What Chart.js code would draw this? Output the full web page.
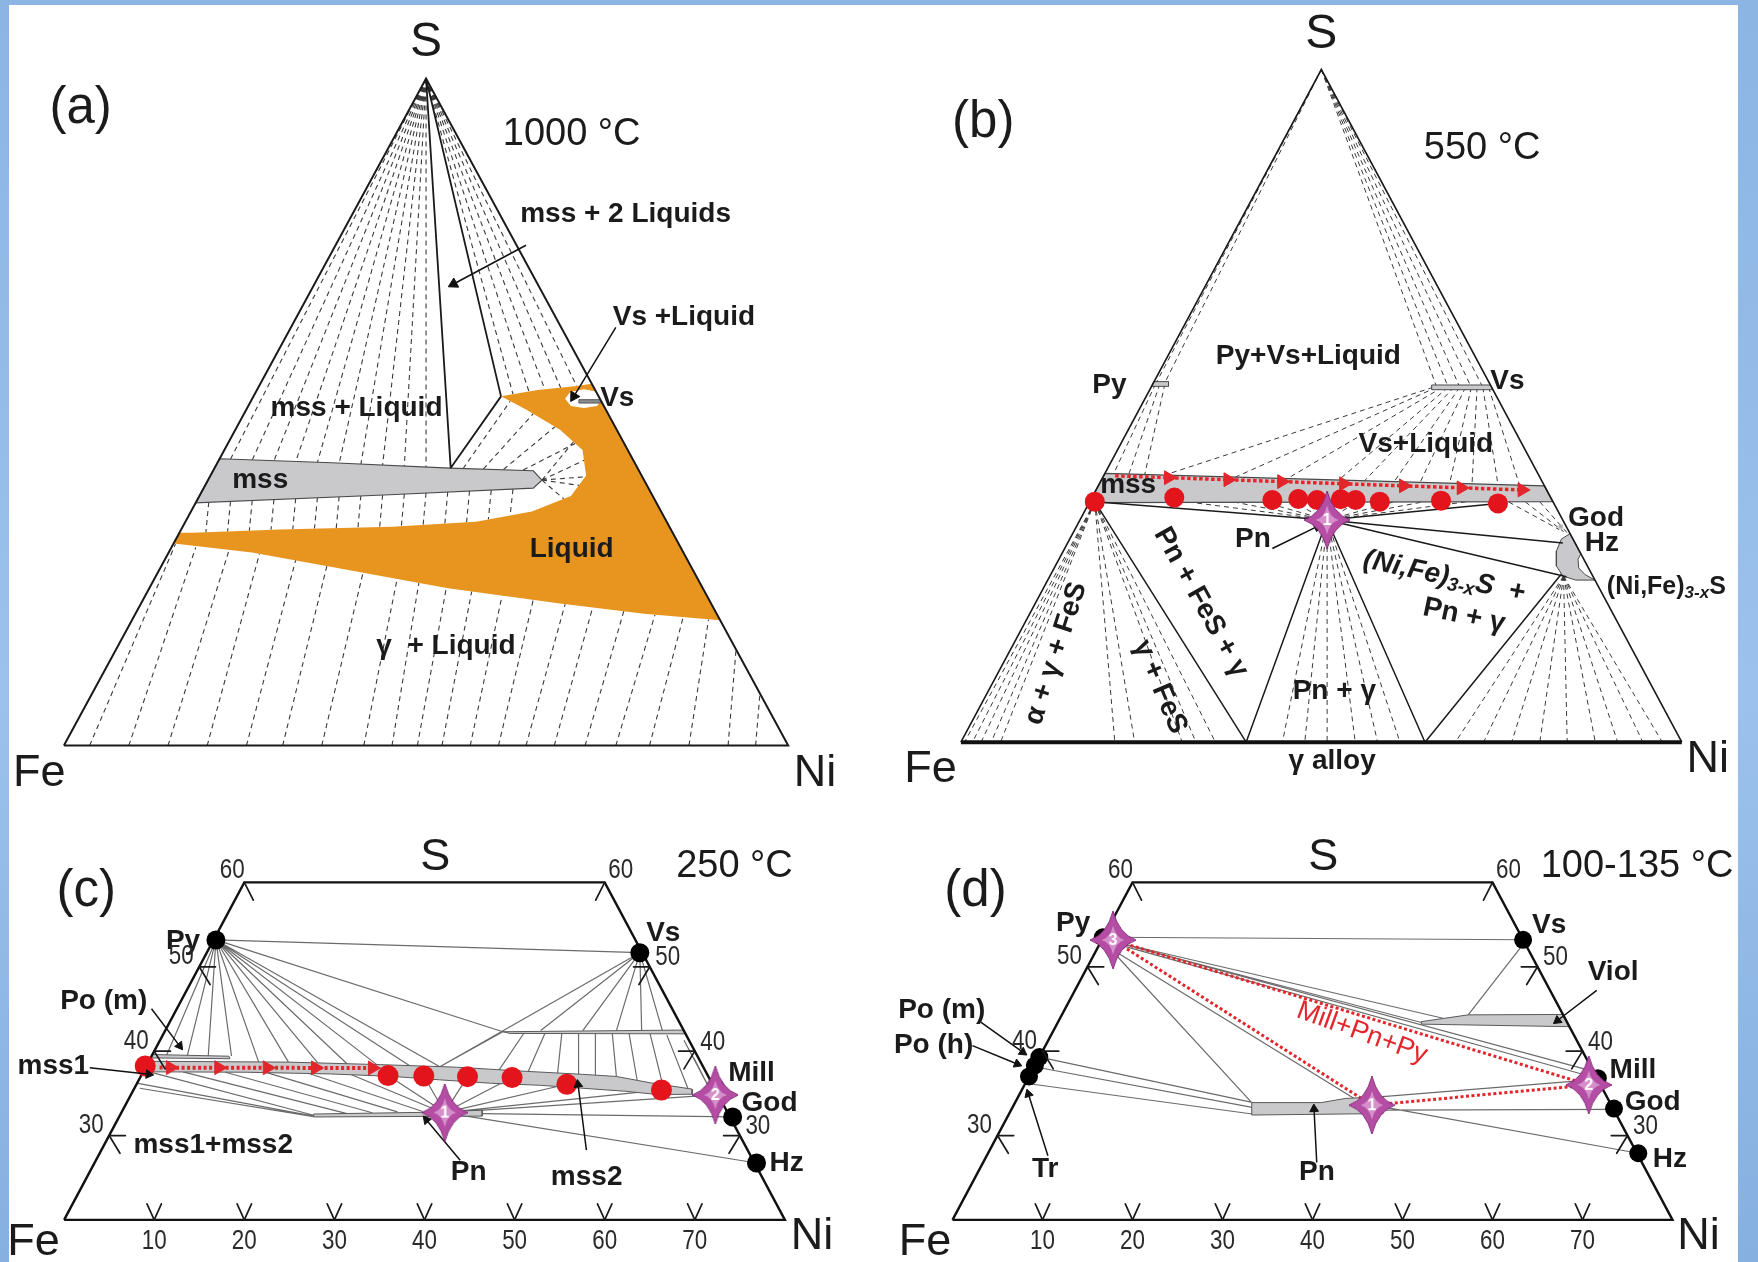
<!DOCTYPE html>
<html>
<head>
<meta charset="utf-8">
<title>Fe–Ni–S phase relations</title>
<script src="https://cdn.jsdelivr.net/npm/chart.js@4.4.1/dist/chart.umd.min.js"></script>
<style>
  html, body { margin: 0; padding: 0; }
  body { width: 1758px; height: 1262px; position: relative; overflow: hidden;
         background: linear-gradient(180deg, #8cb5e4 0%, #9cc1ec 55%, #86b0e0 100%); }
  #sheet { position: absolute; left: 9px; top: 5px; width: 1729px; height: 1257px; background: #ffffff; }
  canvas { position: absolute; }
</style>
</head>
<body>
<div id="sheet"></div>
<canvas id="pa" width="879" height="800" style="left:0px;top:0px"></canvas>
<canvas id="pb" width="879" height="800" style="left:879px;top:0px"></canvas>
<canvas id="pc" width="879" height="462" style="left:0px;top:800px"></canvas>
<canvas id="pd" width="879" height="462" style="left:879px;top:800px"></canvas>
<script>
// Coordinates are [x, S]: x = horizontal position along the Fe–Ni base, S = at.% sulfur (height).
// Panels (a),(b): full triangle, x 0..100, S 0..100.  Panels (c),(d): section S 20..60, x 0..80.

// ================= Panel (a) 1000 °C =================
const aCorners = [['S', 50, 105.4], ['Fe', -3.4, -4.2], ['Ni', 103.7, -4.2]];
const aTitle = [['(a)', 2.3, 95.5]];
const aTemp = [['1000 °C', 70.1, 91.6]];
const aOutline = [[0,0],[50,100],[100,0],[0,0]];
const aMss = [[21.5,43.0],[37,42.4],[53.3,41.6],[64.8,41.2],[66.0,39.8],[64.8,38.6],[45,37.6],[18.2,36.4],[21.5,43.0]];
const aLiquid = [[16.0,31.9],[17.8,31.9],[29.8,32.4],[45.3,32.8],[56.9,33.56],[64.6,35.1],[70.0,37.4],[72.1,40.5],[71.6,44.3],[68.5,47.35],[63.8,50.4],[60.35,52.35],[65.4,53.3],[70.8,53.9],[72.87,54.26],[90.6,18.8],[80.1,19.76],[68.5,21.3],[53.03,23.6],[37.57,26.65],[25.97,28.96],[15.2,30.3],[16.0,31.9]];
const aVsHole = [[69.2,52.0],[69.9,53.0],[71.8,53.4],[73.8,53.0],[74.4,52.0],[73.6,50.9],[71.8,50.6],[70.0,50.9],[69.2,52.0]];
const aVsPhase = [[71.1,51.85],[74.05,51.85],[74.25,51.35],[71.1,51.35],[71.1,51.85]];
const aBoundaries = [[50,100,53.4,41.6],[50,100,60.35,52.35],[53.4,41.6,60.35,52.35]];
const aApex = [50,100];
const aApexTieEnds = [[23,42.94],[26,42.8],[29,42.68],[32,42.55],[35,42.42],[38,42.29],[41,42.16],[44,42.03],[47,41.9],[50,41.77],[62,52.7],[64.2,53.1],[66.4,53.4],[68.6,53.6],[70.8,53.9]];
const aMssTip = [66.0,39.8];
const aTipTieEnds = [[72.1,40.3],[71.9,42.8],[70.4,45.6],[71.2,39.0],[69.0,37.0]];
const aTies = [
  [20,36.5,19.6,31.95],[23,36.6,22.6,32.1],[26,36.75,25.6,32.2],[29,36.9,28.6,32.35],[32,37.05,31.6,32.45],
  [35,37.2,34.6,32.55],[38,37.35,37.6,32.6],[41,37.5,40.6,32.7],[44,37.6,43.6,32.8],[47,37.75,46.6,32.95],
  [50,37.9,49.6,33.1],[53,38.05,52.6,33.3],[56,38.2,55.6,33.5],[59,38.3,58.6,33.9],[62,38.45,61.6,34.4],
  [55.1,41.5,61.6,51.6],[57.9,41.45,64.8,49.75],[60.7,41.4,67.8,47.8],[63.4,41.3,70.6,45.3],
  [3.55,0,15.4,30.2],[8.96,0,18.2,29.7],[14.37,0,22.8,29.3],[19.78,0,27.0,28.75],[25.2,0,32.0,27.8],
  [30.2,0,36.3,26.9],[35.6,0,41.3,25.9],[41.4,0,46.0,24.95],[45.3,0,49.0,24.35],[48.8,0,52.8,23.65],
  [52.2,0,56.3,23.1],[56.1,0,60.5,22.5],[60.0,0,64.8,21.85],[63.8,0,69.2,21.2],[67.7,0,73.0,20.7],
  [71.96,0,77.3,20.15],[76.2,0,81.6,19.6],[80.85,0,85.5,19.25],[86.3,0,89.0,18.9],[91.7,0,92.8,14.4],[95.5,0,96.1,7.8]
];
const aArrows = [[63.8,75.0,53.8,69.2],[76.2,62.7,70.4,52.35]];
const aFields = [['mss + 2 Liquids',77.55,79.7],['Vs +Liquid',85.6,64.25],['Vs',76.4,52.0],['mss + Liquid',40.4,50.6],['mss',27.1,39.8],['Liquid',70.1,29.4],['γ  + Liquid',52.75,14.96]];

// ================= Panel (b) 550 °C =================
const bCorners = [['S', 50, 105.2], ['Fe', -4.2, -4.0], ['Ni', 103.6, -2.6]];
const bTitle = [['(b)', 3.1, 92.0]];
const bTemp = [['550 °C', 72.3, 88.2]];
const bOutline = [[0,0],[50,100],[100,0]];
const bBase = [[0,0],[100,0]];
const bMss = [[20.0,39.97],[80.95,38.1],[82.1,35.76],[17.8,35.6],[20.0,39.97]];
const bPyPhase = [[26.75,53.6],[28.8,53.6],[28.8,52.9],[26.45,52.9],[26.75,53.6]];
const bVsPhase = [[65.3,53.1],[73.45,53.1],[73.8,52.4],[65.3,52.4],[65.3,53.1]];
const bHzCrescent = [[84.5,31.0],[83.3,30.2],[82.6,28.4],[82.6,26.2],[83.5,24.7],[85.3,24.1],[87.95,24.1],[86.6,24.9],[85.7,25.9],[85.6,27.2],[86.0,28.0],[85.3,29.4],[84.5,31.0]];
const bGod = [[83.2,32.05]];
const bAnalysisX = [18.57,29.6,43.2,46.8,49.4,52.7,54.75,58.1,66.6,74.5];
const bAnalysisS = [35.76,36.36,36.01,36.16,36.01,36.11,36.01,35.76,35.91,35.5];
const bPn = [[50.8,33.04]];
const bTrend = [[21.4,39.6],[77.85,37.5]];
const bTrendHeadX = [28.8,37.05,44.5,53.1,61.4,69.4,77.85];
const bTrendHeadS = [39.32,39.02,38.74,38.42,38.11,37.81,37.5];
const bPhaseLines = [[18.57,35.76,50.8,33.04],[74.5,35.5,50.8,33.04],[50.8,33.04,83.5,29.6],[50.8,33.04,84.0,24.6],[18.57,35.76,39.57,0],[50.8,33.04,39.57,0],[50.8,33.04,64.38,0],[83.3,25.0,64.38,0]];
const bApexTieEnds = [[27.0,53.25],[28.2,53.25],[66,52.76],[67.6,52.76],[69.2,52.76],[70.8,52.76],[72.4,52.76]];
const bPyTies = [[27.0,53.25,21.2,39.94],[27.6,53.25,23.3,39.87],[28.3,53.25,25.5,39.8]];
const bVsTies = [[65.5,52.76,28.3,39.72],[66,52.76,38.1,39.42],[66.8,52.76,45.3,39.2],[67.6,52.76,52.4,38.98],[68.4,52.76,56,38.87],[69.2,52.76,60.1,38.74],[70,52.76,63.7,38.63],[70.8,52.76,67.8,38.5],[71.6,52.76,70.9,38.4],[72.4,52.76,74.5,38.3],[73.2,52.76,77.5,38.2]];
const bPnUpEnds = [[32,35.65],[38,35.68],[42,35.7],[46,35.7],[55,35.7],[60,35.7],[64,35.7],[70,35.72]];
const bPnDownEnds = [[44.6,0],[47.7,0],[50.8,0],[54.7,0],[57.8,0],[60.9,0]];
const bFeS = [18.57,35.76];
const bFeSEnds = [[0.5,0],[1.6,0],[2.8,0],[4.2,0],[5.5,0],[21.35,0],[24.1,0],[30.7,0],[32.6,0],[35.3,0]];
const bHz = [83.6,24.7];
const bHzEnds = [[68.6,0],[72.5,0],[76.4,0],[80.3,0],[84.1,0],[88.0,0],[91.1,0],[94.6,0],[97.3,0]];
const bGodTies = [[76,35.7,83.0,31.6],[78.3,35.72,83.6,31.3],[80.3,35.73,84.2,31.0]];
const bArrows = [[43.2,28.8,49.4,32.05]];
const bFields = [['Py+Vs+Liquid',48.2,57.3],['Py',20.6,53.1],['Vs',75.8,53.7],['Vs+Liquid',64.5,44.3],['mss',23.2,38.2],['Pn',40.5,30.1],['God',88.1,33.3],['Hz',88.9,29.6],['Pn + γ',51.8,7.5],['γ alloy',51.5,-2.8]];
const bRotFields = [['Pn + FeS + γ',33.3,20.8,61],['α + γ + FeS',13.2,13.2,-72],['γ + FeS',27.6,8.2,67],['Pn + γ',69.8,18.8,12]];

// ================= Panel (c) 250 °C =================
const secBaseTicks = [10,20,30,40,50,60,70];
const secSideTicks = [30,40,50];
const secTopTick = 60;
const cCorners = [['S', 41.2, 62.9], ['Fe', -3.4, 17.35], ['Ni', 83.0, 18.0]];
const cTitle = [['(c)', 2.46, 58.9]];
const cTemp = [['250 °C', 74.4, 61.86]];
const cOutline = [[0,20],[20,60],[60,60],[80,20],[0,20]];
const cMss = [[9.47,38.8],[24.88,38.7],[35.15,38.4],[43.56,38.1],[50.57,37.65],[57.57,37.25],[61.3,37.0],[65.04,36.25],[69.7,35.5],[69.7,34.9],[65.98,34.85],[62.24,35.25],[57.57,35.6],[52.9,35.95],[47.3,36.2],[41.69,36.6],[36.56,37.0],[29.55,37.3],[20.21,37.5],[9.47,37.55],[9.47,38.8]];
const cPoM = [[9.8,39.6],[18.3,39.4],[18.4,39.1],[9.6,39.2],[9.8,39.6]];
const cUpper = [[48.7,42.3],[68.75,42.5],[68.95,42.05],[49.5,42.1],[48.7,42.3]];
const cPnBand = [[27.7,32.55],[40,32.75],[46.4,33.0],[46.4,32.3],[27.7,32.2],[27.7,32.55]];
const cMinerals = [[16.85,53.18],[63.9,51.67],[72.3,35.6],[74.2,32.2],[76.85,26.74]]; // Py, Vs, Mill, God, Hz
const cAnalysisX = [9.0,35.95,39.92,44.77,49.72,55.8,66.3];
const cAnalysisS = [38.25,37.1,37.06,36.98,36.87,36.08,35.4];
const cStars = [[42.25,32.72],[72.28,34.81]];
const cStarLabels = ['1','2'];
const cTrend = [[10.6,38.05],[34.45,38.0]];
const cTrendHeadX = [11.8,17.17,22.55,27.9,34.22];
const cTrendHeadS = [38.05,38.04,38.03,38.02,38.0];
const cPyTieEnds = [[63.9,51.67],[48.7,42.3],[11.34,39.43],[13.67,39.43],[16.0,39.43],[18.58,39.43],[21.6,38.7],[24.9,38.7],[28.15,38.6],[31.4,38.5],[34.7,38.4],[38.4,38.25],[41.7,38.15]];
const cVsTieEnds = [[41.7,38.15],[52.9,42.44],[57.57,42.44],[61.3,42.44],[64.1,42.44],[66.4,42.44]];
const cStarTieEnds = [[35.95,37.1],[39.92,37.06],[44.77,36.98],[49.72,36.87],[55.8,36.08],[66.3,35.4],[72.28,34.81],[76.85,26.74]];
const cTies = [
  [48.7,42.3,41.7,38.15],
  [51.03,42.12,48.23,37.7],[53.37,42.12,51.5,37.55],[55.24,42.12,54.77,37.35],[57.1,42.12,57.1,37.25],[58.97,42.12,58.97,37.15],
  [60.84,42.12,61.3,37.0],[62.7,42.12,63.6,36.55],[65.04,42.04,66.44,36.0],[66.9,41.9,69.25,35.55],
  [68.8,41.3,71.9,35.0],[69.3,40.3,71.9,35.0],[69.9,39.2,71.9,35.0],
  [9.47,37.55,27.7,32.4],[13.2,37.55,31.4,32.6],[17.9,37.5,34.2,32.7],[22.5,37.45,37.0,32.8],[27.2,37.35,39.8,32.85],[31.9,37.2,41.7,32.85],
  [8.06,36.2,27.7,32.3],[8.4,35.6,27.7,32.25],
  [46.4,32.6,74.2,32.2]
];
const cArrows = [[9.7,45.02,12.82,40.63],[2.85,38.04,9.39,37.25],[43.96,27.06,40.22,31.85],[57.97,28.26,57.04,36.05]];
const cFields = [['Py',13.2,53.0],['Vs',66.5,53.97],['Po (m)',4.4,45.9],['mss1',-1.2,38.24],['Mill',76.3,37.4],['God',78.3,33.85],['Hz',80.2,26.7],['mss1+mss2',16.55,28.9],['Pn',44.9,25.7],['mss2',58.0,25.1]];

// ================= Panel (d) 100-135 °C =================
const dCorners = [['S', 41.2, 62.9], ['Fe', -3.06, 17.35], ['Ni', 82.9, 18.0]];
const dTitle = [['(d)', 2.56, 58.9]];
const dTemp = [['100-135 °C', 76.06, 61.86]];
const dOutline = [[0,20],[20,60],[60,60],[80,20],[0,20]];
const dViol = [[52.1,43.5],[57.3,44.3],[67.9,44.35],[68.55,42.9],[52.1,43.2],[52.1,43.5]];
const dPnBand = [[33.25,33.9],[40.96,33.9],[43.7,34.4],[47.8,34.6],[47.8,32.6],[33.25,32.43],[33.25,33.9]];
const dMinerals = [[16.7,53.5],[63.4,53.2],[71.7,36.8],[73.5,33.2],[76.2,27.9],[9.65,39.3],[9.15,38.3],[8.5,37.0]]; // Py, Vs, Mill, God, Hz, Po(m), Po(h), Tr
const dStars = [[46.6,33.6],[70.7,36.0],[17.84,53.17]];
const dStarLabels = ['1','2','3'];
const dAssemblage = [[17.84,53.17],[46.6,33.6],[70.7,36.0],[17.84,53.17]];
const dTies = [
  [17.3,53.5,63.4,53.2],[63.2,52.4,57.3,44.3],[17.84,53.0,52.1,43.4],[17.84,53.0,54.5,43.9],
  [17.84,53.0,71.2,37.6],[17.84,52.8,70.9,37.0],[17.3,52.4,33.25,33.9],[17.2,52.4,46.3,33.3],
  [47.8,34.6,70.9,36.6],[47.8,33.0,73.5,33.1],[47.8,33.4,76.2,27.9],
  [10.6,39.08,33.3,33.93],[9.37,38.09,33.3,33.33],[8.73,36.11,33.3,32.55]
];
const dArrows = [[71.58,47.2,67.22,43.63],[3.14,43.43,7.81,39.88],[2.21,40.66,7.19,38.48],[10.6,27.6,8.43,34.92],[40.47,26.8,40.17,33.14]];
const dFields = [['Py',13.4,55.1],['Vs',66.3,54.9],['Viol',73.4,49.4],['Po (m)',-1.2,44.8],['Po (h)',-2.1,40.66],['Mill',75.6,37.7],['God',77.8,33.9],['Hz',79.7,27.2],['Tr',10.3,26.0],['Pn',40.5,25.6]];
const dRedLabel = [['Mill+Pn+Py',45.5,42.15,20]];

// ================= helpers =================
const FONT = "'Liberation Sans', Arial, Helvetica, sans-serif";
const ST = {
  apexBig: { font: `48px ${FONT}` },
  apexSm:  { font: `45px ${FONT}` },
  corner:  { font: `45px ${FONT}` },
  panel:   { font: `51px ${FONT}` },
  temp:    { font: `38px ${FONT}` },
  field:   { font: `bold 28px ${FONT}` },
  fieldSm: { font: `bold 28px ${FONT}` },
  red:     { font: `27px ${FONT}`, color: '#e3262b' }
};
const INK = '#1b1b1b';
const P = a => a.map(p => ({ x: p[0], y: p[1] }));
function Sg(list) { const out = []; list.forEach(s => out.push({x:s[0],y:s[1]},{x:s[2],y:s[3]},{x:null,y:null})); return out; }
function Fan(o, ends) { return ends.map(e => [o[0], o[1], e[0], e[1]]); }
function Z(xs, ys) { return xs.map((v, i) => [v, ys[i]]); }
function T(arr, style) { return arr.map(a => Object.assign({ text: a[0], x: a[1], y: a[2], rot: a[3] || 0 }, style)); }

function lineDS(data, color, width, dash, order) {
  return { data, showLine: true, borderColor: color, borderWidth: width, borderDash: dash || [],
           pointRadius: 0, pointHoverRadius: 0, fill: false, clip: false, spanGaps: false, tension: 0, order };
}
function polyDS(pts, fillColor, border, bw, order) {
  return { data: P(pts), showLine: true, fill: 'shape', backgroundColor: fillColor, borderColor: border,
           borderWidth: bw, pointRadius: 0, pointHoverRadius: 0, clip: false, tension: 0, order };
}
function dotDS(pts, color, r, order, style) {
  return { data: P(pts), showLine: false, pointStyle: style || 'circle', pointRadius: r, pointHoverRadius: r,
           pointBackgroundColor: color, pointBorderColor: color, pointBorderWidth: 0, clip: false, order };
}
function headDS(list, color, r, order) {
  return { data: list.map(a => ({ x: a[2], y: a[3] })), showLine: false, pointStyle: 'triangle',
           pointRadius: r, pointHoverRadius: r, pointBackgroundColor: color, pointBorderColor: color, pointBorderWidth: 1,
           clip: false, order,
           rotation: c => {
             const a = list[c.dataIndex]; const xs = c.chart.scales.x, ys = c.chart.scales.y;
             if (!a || !xs || !ys) return 0;
             const dx = xs.getPixelForValue(a[2]) - xs.getPixelForValue(a[0]);
             const dy = ys.getPixelForValue(a[3]) - ys.getPixelForValue(a[1]);
             return Math.atan2(dx, -dy) * 180 / Math.PI;
           } };
}
function trendHeadDS(pts, order) {
  return { data: P(pts), showLine: false, pointStyle: 'triangle', rotation: 90, pointRadius: 8, pointHoverRadius: 8,
           pointBackgroundColor: '#e3262b', pointBorderColor: '#e3262b', pointBorderWidth: 1, clip: false, order };
}
function makeStar(label) {
  const w = 46, h = 58, c = document.createElement('canvas');
  c.width = w; c.height = h;
  const g = c.getContext('2d'), cx = w / 2, cy = h / 2;
  const path = (k, inner) => {
    const rx = cx * k, ry = cy * k, i = inner * k;
    g.beginPath();
    g.moveTo(cx, cy - ry);
    g.quadraticCurveTo(cx + i, cy - i, cx + rx, cy);
    g.quadraticCurveTo(cx + i, cy + i, cx, cy + ry);
    g.quadraticCurveTo(cx - i, cy + i, cx - rx, cy);
    g.quadraticCurveTo(cx - i, cy - i, cx, cy - ry);
    g.closePath();
  };
  path(1, 6); g.fillStyle = '#b44da3'; g.fill(); g.strokeStyle = '#86297c'; g.lineWidth = 1; g.stroke();
  path(0.5, 5); g.fillStyle = '#d590cb'; g.fill();
  g.fillStyle = '#ffffff'; g.font = `bold 16px ${FONT}`; g.textAlign = 'center'; g.textBaseline = 'middle';
  g.fillText(label, cx, cy + 1);
  return c;
}
function starDS(pts, labels, order) {
  const imgs = labels.map(makeStar);
  return { data: P(pts), showLine: false, pointStyle: c => imgs[c.dataIndex] || 'circle', pointRadius: 12,
           pointHoverRadius: 12, clip: false, order };
}
function makeTextPlugin(items) {
  return {
    id: 'panelText',
    afterDatasetsDraw(chart) {
      const ctx = chart.ctx, xs = chart.scales.x, ys = chart.scales.y;
      items.forEach(it => {
        const px = xs.getPixelForValue(it.x) + (it.dx || 0);
        const py = ys.getPixelForValue(it.y) + (it.dy || 0);
        const parts = it.parts || [{ t: it.text, font: it.font }];
        ctx.save();
        ctx.translate(px, py);
        if (it.rot) ctx.rotate(it.rot * Math.PI / 180);
        ctx.fillStyle = it.color || INK;
        ctx.textBaseline = 'middle'; ctx.textAlign = 'left';
        const widths = parts.map(p => { ctx.font = p.font || it.font; return ctx.measureText(p.t).width; });
        const total = widths.reduce((a, b) => a + b, 0);
        let x0 = it.align === 'left' ? 0 : (it.align === 'right' ? -total : -total / 2);
        parts.forEach((p, i) => { ctx.font = p.font || it.font; ctx.fillText(p.t, x0, p.dy || 0); x0 += widths[i]; });
        ctx.restore();
      });
    }
  };
}
function makeTickPlugin(cfg) {
  return {
    id: 'sectionTicks',
    afterDatasetsDraw(chart) {
      const X = v => chart.scales.x.getPixelForValue(v), Y = v => chart.scales.y.getPixelForValue(v);
      const ctx = chart.ctx;
      const s0 = cfg.sMin, xr = cfg.xMax;
      const left = s => (s - s0) / 2, right = s => xr - (s - s0) / 2;
      ctx.save();
      ctx.strokeStyle = '#1a1a1a'; ctx.lineWidth = 1.7; ctx.lineCap = 'round';
      const seg = (x1, y1, x2, y2) => { ctx.beginPath(); ctx.moveTo(X(x1), Y(y1)); ctx.lineTo(X(x2), Y(y2)); ctx.stroke(); };
      cfg.base.forEach(n => { seg(n, s0, n - 0.8, s0 + 1.9); seg(n, s0, n + 0.8, s0 + 1.9); });
      cfg.sides.forEach(s => {
        const a = left(s), b = right(s);
        seg(a, s, a + 1.8, s); seg(a, s, a + 1.2, s - 2.1);
        seg(b, s, b - 1.8, s); seg(b, s, b - 1.2, s - 2.1);
      });
      seg(left(cfg.top), cfg.top, left(cfg.top) + 1.0, cfg.top - 2.1);
      seg(right(cfg.top), cfg.top, right(cfg.top) - 1.0, cfg.top - 2.1);
      ctx.fillStyle = '#2a2a2a'; ctx.textAlign = 'center'; ctx.textBaseline = 'middle';
      const lab = (t, px, py) => { ctx.save(); ctx.translate(px, py); ctx.scale(0.8, 1); ctx.font = `28px ${FONT}`; ctx.fillText(t, 0, 0); ctx.restore(); };
      cfg.base.forEach(n => lab(String(n), X(n), Y(s0) + 21));
      cfg.sides.forEach(s => { lab(String(s), X(left(s)) - 18, Y(s) - 10); lab(String(s), X(right(s)) + 18, Y(s) - 9); });
      lab(String(cfg.top), X(left(cfg.top)) - 12, Y(cfg.top) - 12);
      lab(String(cfg.top), X(right(cfg.top)) + 16, Y(cfg.top) - 12);
      ctx.restore();
    }
  };
}
function build(id, pad, xr, yr, datasets, texts, ticks) {
  const plugins = [makeTextPlugin(texts)];
  if (ticks) plugins.push(makeTickPlugin(ticks));
  return new Chart(document.getElementById(id), {
    type: 'scatter',
    data: { datasets },
    options: {
      responsive: false, animation: false, devicePixelRatio: 1, events: [],
      layout: { padding: pad },
      scales: {
        x: { type: 'linear', min: xr[0], max: xr[1], display: false },
        y: { type: 'linear', min: yr[0], max: yr[1], display: false }
      },
      plugins: { legend: { display: false }, tooltip: { enabled: false } }
    },
    plugins
  });
}
const GREY = '#c9c9cc', GREY_EDGE = '#4a4a4a', RED = '#e3262b', DOT_RED = '#e4141c';

// ---------- (a) ----------
build('pa', { left: 63.9, right: 90.8, top: 78.5, bottom: 54.4 }, [0, 100], [0, 100], [
  lineDS(Sg(Fan(aApex, aApexTieEnds).concat(Fan(aMssTip, aTipTieEnds), aTies)), '#3a3a3a', 1.1, [5, 4], 70),
  polyDS(aLiquid, '#e8951f', '#e8951f', 0, 60),
  polyDS(aVsHole, '#ffffff', '#ffffff', 0, 59),
  polyDS(aMss, GREY, GREY_EDGE, 1.2, 50),
  polyDS(aVsPhase, '#8d8d8d', '#555555', 1, 49),
  lineDS(Sg(aBoundaries), '#1a1a1a', 1.8, [], 40),
  lineDS(P(aOutline), '#1a1a1a', 2, [], 35),
  lineDS(Sg(aArrows), '#111111', 1.5, [], 30),
  headDS(aArrows, '#111111', 6, 29)
], [].concat(
  T(aCorners.slice(0, 1), ST.apexBig), T(aCorners.slice(1), ST.corner), T(aTitle, ST.panel),
  T(aTemp, ST.temp), T(aFields, ST.field)
));

// ---------- (b) ----------
build('pb', { left: 81.9, right: 76.2, top: 69.5, bottom: 57.8 }, [0, 100], [0, 100], [
  lineDS(Sg([].concat(Fan([50, 100], bApexTieEnds), bPyTies, bVsTies, Fan(bPn[0], bPnUpEnds), Fan(bPn[0], bPnDownEnds),
                      Fan(bFeS, bFeSEnds), Fan(bHz, bHzEnds), bGodTies)), '#3a3a3a', 1.0, [5, 4], 70),
  polyDS(bMss, GREY, GREY_EDGE, 1.2, 50),
  polyDS(bPyPhase, GREY, GREY_EDGE, 1, 49),
  polyDS(bVsPhase, GREY, GREY_EDGE, 1, 49),
  polyDS(bHzCrescent, GREY, GREY_EDGE, 1, 49),
  dotDS(bGod, '#b0b0b0', 3, 48, 'rect'),
  lineDS(Sg(bPhaseLines), '#1a1a1a', 1.5, [], 40),
  lineDS(P(bOutline), '#1a1a1a', 1.6, [], 35),
  lineDS(P(bBase), '#111111', 4, [], 34),
  lineDS(P(bTrend), RED, 3.5, [3.5, 2.5], 20),
  trendHeadDS(Z(bTrendHeadX, bTrendHeadS), 19),
  dotDS(Z(bAnalysisX, bAnalysisS), DOT_RED, 10, 10),
  lineDS(Sg(bArrows), '#111111', 1.5, [], 8),
  headDS(bArrows, '#111111', 5, 7),
  starDS(bPn, ['1'], 5)
], [].concat(
  T(bCorners.slice(0, 1), ST.apexBig), T(bCorners.slice(1), ST.corner), T(bTitle, ST.panel),
  T(bTemp, ST.temp), T(bFields, ST.field), T(bRotFields, ST.field),
  [
    { x: 67.07, y: 24.6, rot: 12, parts: [
      { t: '(Ni,Fe)', font: `italic bold 28px ${FONT}` }, { t: '3-x', font: `italic bold 19px ${FONT}`, dy: 7 },
      { t: 'S', font: `italic bold 28px ${FONT}` }, { t: '  +', font: `bold 28px ${FONT}` } ] },
    { x: 89.6, y: 23.0, align: 'left', parts: [
      { t: '(Ni,Fe)', font: `bold 25px ${FONT}` }, { t: '3-x', font: `italic bold 17px ${FONT}`, dy: 6 },
      { t: 'S', font: `bold 25px ${FONT}` } ] }
  ]
));

// ---------- (c) ----------
const secTicks = { sMin: 20, xMax: 80, base: secBaseTicks, sides: secSideTicks, top: secTopTick };
build('pc', { left: 64.1, right: 94.1, top: 82.4, bottom: 42.1 }, [0, 80], [20, 60], [
  lineDS(Sg([].concat(Fan(cMinerals[0], cPyTieEnds), Fan(cMinerals[1], cVsTieEnds), Fan(cStars[0], cStarTieEnds), cTies)), '#6b6b6b', 1.2, [], 70),
  polyDS(cMss, GREY, '#5a5a5a', 1, 50),
  polyDS(cPoM, GREY, '#5a5a5a', 1, 50),
  polyDS(cUpper, GREY, '#5a5a5a', 1, 50),
  polyDS(cPnBand, GREY, '#5a5a5a', 1, 50),
  lineDS(P(cOutline), '#111111', 2.4, [], 35),
  lineDS(P(cTrend), RED, 4, [3, 2.5], 20),
  trendHeadDS(Z(cTrendHeadX, cTrendHeadS), 19),
  dotDS(cMinerals, '#000000', 9.5, 12),
  dotDS(Z(cAnalysisX, cAnalysisS), DOT_RED, 10.5, 10),
  lineDS(Sg(cArrows), '#111111', 1.5, [], 8),
  headDS(cArrows, '#111111', 5, 7),
  starDS(cStars, cStarLabels, 5)
], [].concat(
  T(cCorners.slice(0, 1), ST.apexSm), T(cCorners.slice(1), ST.corner), T(cTitle, ST.panel),
  T(cTemp, ST.temp), T(cFields, ST.fieldSm)
), secTicks);

// ---------- (d) ----------
build('pd', { left: 73.5, right: 85.5, top: 82.4, bottom: 42.1 }, [0, 80], [20, 60], [
  lineDS(Sg(dTies), '#6b6b6b', 1.2, [], 70),
  polyDS(dViol, GREY, '#5a5a5a', 1, 50),
  polyDS(dPnBand, GREY, '#5a5a5a', 1, 50),
  lineDS(P(dOutline), '#111111', 2.4, [], 35),
  lineDS(P(dAssemblage), RED, 3, [3, 2.5], 20),
  dotDS(dMinerals, '#000000', 9, 12),
  lineDS(Sg(dArrows), '#111111', 1.5, [], 8),
  headDS(dArrows, '#111111', 5, 7),
  starDS(dStars, dStarLabels, 5)
], [].concat(
  T(dCorners.slice(0, 1), ST.apexSm), T(dCorners.slice(1), ST.corner), T(dTitle, ST.panel),
  T(dTemp, ST.temp), T(dFields, ST.fieldSm), T(dRedLabel, ST.red)
), secTicks);
</script>
</body>
</html>
